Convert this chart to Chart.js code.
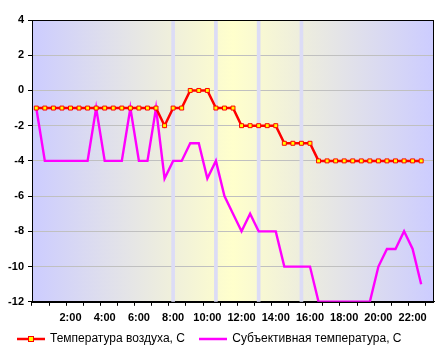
<!DOCTYPE html>
<html>
<head>
<meta charset="utf-8">
<script src="https://cdn.jsdelivr.net/npm/chart.js@4.4.1/dist/chart.umd.min.js"></script>
<style>
html,body{margin:0;padding:0;background:#fff;}
#wrap{width:447px;height:355px;}
</style>
</head>
<body>
<div id="wrap"><canvas id="c" width="447" height="355"></canvas></div>
<script>
const categories = ['0:00','0:30','1:00','1:30','2:00','2:30','3:00','3:30','4:00','4:30','5:00','5:30',
  '6:00','6:30','7:00','7:30','8:00','8:30','9:00','9:30','10:00','10:30','11:00','11:30',
  '12:00','12:30','13:00','13:30','14:00','14:30','15:00','15:30','16:00','16:30','17:00','17:30',
  '18:00','18:30','19:00','19:30','20:00','20:30','21:00','21:30','22:00','22:30','23:00'];
const tickLabels = ['2:00','4:00','6:00','8:00','10:00','12:00','14:00','16:00','18:00','20:00','22:00'];
const airTemp = [-1,-1,-1,-1,-1,-1,-1,-1,-1,-1,-1,-1,-1,-1,-1,-2,-1,-1,0,0,0,-1,-1,-1,
  -2,-2,-2,-2,-2,-3,-3,-3,-3,-4,-4,-4,-4,-4,-4,-4,-4,-4,-4,-4,-4,-4,null];
const feelTemp = [-1,-4,-4,-4,-4,-4,-4,-1,-4,-4,-4,-1,-4,-4,-1,-5,-4,-4,-3,-3,-5,-4,-6,-7,
  -8,-7,-8,-8,-8,-10,-10,-10,-10,-12,-12,-12,-12,-12,-12,-12,-10,-9,-9,-8,-9,-11,null];
const stripeHours = ['8:00','10:30','13:00','15:30'];
const seriesNames = ['Температура воздуха, С','Субъективная температура, С'];
const yMin = -12, yMax = 4, yStep = 2;

const stripeData = categories.map(c => stripeHours.includes(c) ? [yMin, yMax] : null);

function legendIcon(color, marker) {
  const cv = document.createElement('canvas');
  cv.width = 28; cv.height = 8;
  const g = cv.getContext('2d');
  g.strokeStyle = color; g.lineWidth = 2.5;
  g.beginPath(); g.moveTo(0, 4); g.lineTo(28, 4); g.stroke();
  if (marker) {
    g.fillStyle = '#FFFF00'; g.fillRect(12, 2, 4, 4);
    g.strokeStyle = color; g.lineWidth = 1; g.strokeRect(11.5, 1.5, 5, 5);
  }
  return cv;
}
const icons = [legendIcon('#FF0000', true), legendIcon('#FF00FF', false)];

const bgPlugin = {
  id: 'bg',
  afterLayout(chart) {
    const lg = chart.legend;
    if (lg) { lg.left += 16; lg.right += 16; }
  },
  beforeDraw(chart) {
    const {ctx, chartArea: a} = chart;
    const gr = ctx.createLinearGradient(a.left, 0, a.right, 0);
    gr.addColorStop(0, '#CCCCFF');
    gr.addColorStop(0.5, '#FFFFCC');
    gr.addColorStop(1, '#CCCCFF');
    ctx.save();
    ctx.fillStyle = gr;
    ctx.fillRect(a.left, a.top, a.right - a.left, a.bottom - a.top);
    ctx.restore();
  },
  afterDraw(chart) {
    const {ctx, chartArea: a} = chart;
    ctx.save();
    ctx.strokeStyle = '#000'; ctx.lineWidth = 1;
    ctx.strokeRect(Math.round(a.left) + 0.5, Math.round(a.top) + 0.5,
      Math.round(a.right - a.left) - 1, Math.round(a.bottom - a.top));
    ctx.restore();
  }
};

new Chart(document.getElementById('c'), {
  data: {
    labels: categories,
    datasets: [
      {
        type: 'line', label: seriesNames[0], data: airTemp, order: 1,
        borderColor: '#FF0000', borderWidth: 2.5, tension: 0,
        pointStyle: 'rect', pointRadius: 2.8, pointBorderWidth: 1,
        pointBackgroundColor: '#FFFF00', pointBorderColor: '#FF0000'
      },
      {
        type: 'line', label: seriesNames[1], data: feelTemp, order: 2,
        borderColor: '#FF00FF', borderWidth: 2.4, tension: 0, pointRadius: 0
      },
      {
        type: 'bar', label: 'stripes', data: stripeData, order: 3,
        backgroundColor: '#DCDCF6', barThickness: 3, borderWidth: 0
      }
    ]
  },
  options: {
    responsive: false,
    animation: false,
    devicePixelRatio: 1,
    layout: { padding: { left: 0, right: 13, top: 20, bottom: 0 } },
    plugins: {
      tooltip: { enabled: false },
      legend: {
        position: 'bottom', align: 'start',
        labels: {
          usePointStyle: true, pointStyleWidth: 26, padding: 2,
          color: '#000', font: { family: 'Liberation Sans', size: 12 },
          generateLabels: () => seriesNames.map((n, i) => ({
            text: i === 0 ? n + '    ' : n,
            pointStyle: icons[i], fillStyle: 'transparent', strokeStyle: 'transparent',
            lineWidth: 0, hidden: false, datasetIndex: i, fontColor: '#000'
          }))
        }
      }
    },
    scales: {
      x: {
        offset: true,
        grid: {
          offset: true, drawOnChartArea: false, tickLength: 4,
          tickColor: ctx => (ctx.index % 2 === 0 ? '#000' : 'rgba(0,0,0,0)'),
          color: '#000'
        },
        border: { color: '#000' },
        ticks: {
          autoSkip: false, maxRotation: 0, padding: 6, color: '#000',
          font: { family: 'Liberation Sans', size: 11, weight: 'bold' },
          callback: (v, i) => tickLabels.includes(categories[i]) ? categories[i] : ''
        }
      },
      y: {
        min: yMin, max: yMax,
        afterFit: s => { s.width = 32; },
        grid: { color: '#C0C0C0', tickLength: 4, tickColor: '#000' },
        border: { color: '#000' },
        ticks: {
          stepSize: yStep, padding: 4, color: '#000',
          font: { family: 'Liberation Sans', size: 11, weight: 'bold' }
        }
      }
    }
  },
  plugins: [bgPlugin]
});
</script>
</body>
</html>
